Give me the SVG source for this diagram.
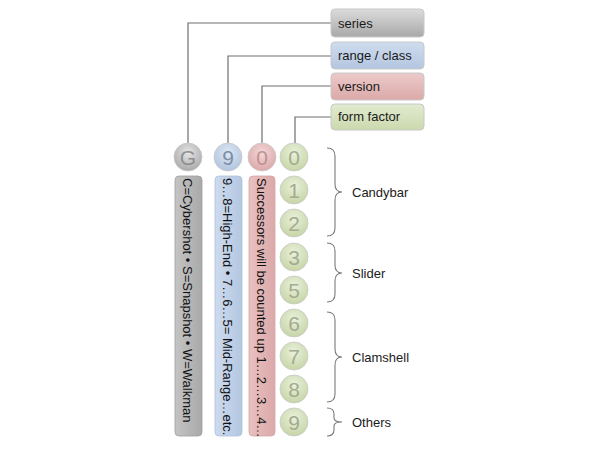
<svg xmlns="http://www.w3.org/2000/svg" width="600" height="450" viewBox="0 0 600 450">
<style>
text{font-family:"Liberation Sans","DejaVu Sans",sans-serif;fill:#1a1a1a}
.lbl{font-size:13px}
.dig{font-size:21px;text-anchor:middle;fill:#8f8f8f}
.vt{font-size:13px;fill:#111}
.box{stroke:#c8c8c8;stroke-width:1}
.con{fill:none;stroke:#6e6e6e;stroke-width:1.2}
.brace{fill:none;stroke:#7a7a7a;stroke-width:1.1}
.cir{stroke:#c8c8c8;stroke-width:0.8}
</style>
<defs>
<linearGradient id="gGray" x1="0" y1="0" x2="0" y2="1"><stop offset="0" stop-color="#dcdcdc"/><stop offset="1" stop-color="#a8a8a8"/></linearGradient>
<linearGradient id="gBlue" x1="0" y1="0" x2="0" y2="1"><stop offset="0" stop-color="#cfdcee"/><stop offset="1" stop-color="#b3c6e0"/></linearGradient>
<linearGradient id="gPink" x1="0" y1="0" x2="0" y2="1"><stop offset="0" stop-color="#eccaca"/><stop offset="1" stop-color="#dba9a8"/></linearGradient>
<linearGradient id="gGreen" x1="0" y1="0" x2="0" y2="1"><stop offset="0" stop-color="#e1ebcf"/><stop offset="1" stop-color="#cbd9ae"/></linearGradient>
<radialGradient id="cGray" cx="0.5" cy="0.35" r="0.65"><stop offset="0" stop-color="#e6e6e6"/><stop offset="1" stop-color="#a9a9a9"/></radialGradient>
<radialGradient id="cBlue" cx="0.5" cy="0.35" r="0.65"><stop offset="0" stop-color="#dde7f4"/><stop offset="1" stop-color="#b1c4de"/></radialGradient>
<radialGradient id="cPink" cx="0.5" cy="0.35" r="0.65"><stop offset="0" stop-color="#f2d8d8"/><stop offset="1" stop-color="#dca8a8"/></radialGradient>
<radialGradient id="cGreen" cx="0.5" cy="0.35" r="0.65"><stop offset="0" stop-color="#eaf1dc"/><stop offset="1" stop-color="#c6d5a6"/></radialGradient>
<linearGradient id="bGray" x1="0" y1="0" x2="1" y2="0"><stop offset="0" stop-color="#c4c4c4"/><stop offset="1" stop-color="#a9a9a9"/></linearGradient>
<linearGradient id="bBlue" x1="0" y1="0" x2="1" y2="0"><stop offset="0" stop-color="#cddbee"/><stop offset="1" stop-color="#b4c7e1"/></linearGradient>
<linearGradient id="bPink" x1="0" y1="0" x2="1" y2="0"><stop offset="0" stop-color="#e9c0c0"/><stop offset="1" stop-color="#dba9a9"/></linearGradient>
</defs>
<rect width="600" height="450" fill="#ffffff"/>

<g id="connectors">
<path class="con" d="M331,23 H188 V143"/>
<path class="con" d="M331,56 H228 V143"/>
<path class="con" d="M331,86 H262 V143"/>
<path class="con" d="M331,117 H295 V143"/>
</g>

<g id="label-series"><rect class="box" x="331" y="9" width="93" height="28" rx="4" fill="url(#gGray)"/><text class="lbl" x="338" y="28">series</text></g>
<g id="label-range"><rect class="box" x="331" y="42" width="93" height="27" rx="4" fill="url(#gBlue)"/><text class="lbl" x="338" y="60">range / class</text></g>
<g id="label-version"><rect class="box" x="331" y="73" width="93" height="27" rx="4" fill="url(#gPink)"/><text class="lbl" x="338" y="91">version</text></g>
<g id="label-form"><rect class="box" x="331" y="104" width="93" height="26" rx="4" fill="url(#gGreen)"/><text class="lbl" x="338" y="121">form factor</text></g>

<g id="circle-G"><circle class="cir" cx="188" cy="157" r="14" fill="url(#cGray)"/><text class="dig" x="188" y="165" fill="#8a8a8a">G</text></g>
<g id="circle-9"><circle class="cir" cx="228" cy="157" r="14" fill="url(#cBlue)"/><text class="dig" x="228" y="165" style="fill:#7d8ea8">9</text></g>
<g id="circle-0v"><circle class="cir" cx="262" cy="157" r="14" fill="url(#cPink)"/><text class="dig" x="262" y="165" style="fill:#c09090">0</text></g>

<g id="bar-series"><rect x="175" y="176" width="27" height="260" rx="4" fill="url(#bGray)" stroke="#a0a0a0" stroke-width="0.8"/><text class="vt" transform="translate(188,178) rotate(90)" dy="0.36em">C=Cybershot • S=Snapshot • W=Walkman</text></g>
<g id="bar-range"><rect x="215" y="176" width="27" height="260" rx="4" fill="url(#bBlue)" stroke="#b0c0d8" stroke-width="0.8"/><text class="vt" transform="translate(228,178) rotate(90)" dy="0.36em">9…8=High-End • 7…6…5= Mid-Range…etc.</text></g>
<g id="bar-version"><rect x="249" y="176" width="26" height="260" rx="4" fill="url(#bPink)" stroke="#d4a4a4" stroke-width="0.8"/><text class="vt" transform="translate(262,178) rotate(90)" dy="0.36em">Successors will be counted up 1…2…3…4…</text></g>

<g id="ff-0"><circle class="cir" cx="294" cy="157" r="14" fill="url(#cGreen)"/><text class="dig" x="294" y="165" style="fill:#a3ab90">0</text></g>
<g id="ff-1"><circle class="cir" cx="294" cy="190" r="14" fill="url(#cGreen)"/><text class="dig" x="294" y="198" style="fill:#a3ab90">1</text></g>
<g id="ff-2"><circle class="cir" cx="294" cy="223" r="14" fill="url(#cGreen)"/><text class="dig" x="294" y="231" style="fill:#a3ab90">2</text></g>
<g id="ff-3"><circle class="cir" cx="294" cy="257" r="14" fill="url(#cGreen)"/><text class="dig" x="294" y="265" style="fill:#a3ab90">3</text></g>
<g id="ff-5"><circle class="cir" cx="294" cy="290" r="14" fill="url(#cGreen)"/><text class="dig" x="294" y="298" style="fill:#a3ab90">5</text></g>
<g id="ff-6"><circle class="cir" cx="294" cy="323" r="14" fill="url(#cGreen)"/><text class="dig" x="294" y="331" style="fill:#a3ab90">6</text></g>
<g id="ff-7"><circle class="cir" cx="294" cy="356" r="14" fill="url(#cGreen)"/><text class="dig" x="294" y="364" style="fill:#a3ab90">7</text></g>
<g id="ff-8"><circle class="cir" cx="294" cy="389" r="14" fill="url(#cGreen)"/><text class="dig" x="294" y="397" style="fill:#a3ab90">8</text></g>
<g id="ff-9"><circle class="cir" cx="294" cy="422" r="14" fill="url(#cGreen)"/><text class="dig" x="294" y="430" style="fill:#a3ab90">9</text></g>

<g id="group-candybar"><path class="brace" d="M327,148 Q335,148 335,156 V184 Q335,192 342,192 Q335,192 335,200 V228 Q335,236 327,236"/><text class="lbl" x="352" y="197">Candybar</text></g>
<g id="group-slider"><path class="brace" d="M327,243 Q335,243 335,251 V265 Q335,273 342,273 Q335,273 335,281 V294 Q335,302 327,302"/><text class="lbl" x="352" y="278">Slider</text></g>
<g id="group-clamshell"><path class="brace" d="M327,312 Q335,312 335,320 V349 Q335,357 342,357 Q335,357 335,365 V394 Q335,402 327,402"/><text class="lbl" x="352" y="362">Clamshell</text></g>
<g id="group-others"><path class="brace" d="M327,408 Q334,408 334,414 V418 Q334,422 342,422 Q334,422 334,426 V430 Q334,436 327,436"/><text class="lbl" x="352" y="427">Others</text></g>
</svg>
